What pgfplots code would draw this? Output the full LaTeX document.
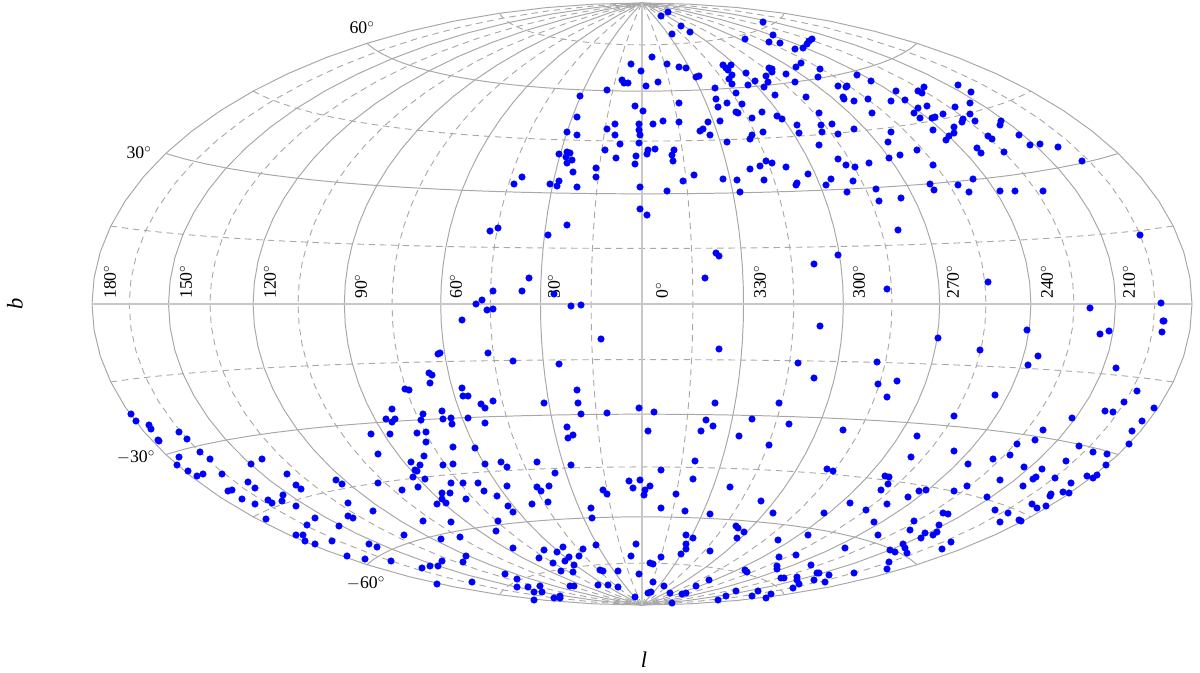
\documentclass[border=0pt]{standalone}
\usepackage{fontspec}
\setmainfont{Liberation Serif}
\usepackage{pgfplots}
\usepackage{pgfplotstable}
\pgfplotsset{compat=1.18}

\definecolor{gridgray}{gray}{0.66}
\definecolor{axisgray}{gray}{0.78}

% graticule nodes, in degrees
\pgfplotstableread{
b
-90
-85
-80
-75
-70
-65
-60
-55
-50
-45
-40
-35
-30
-25
-20
-15
-10
-5
0
5
10
15
20
25
30
35
40
45
50
55
60
65
70
75
80
85
90
}\latnodes
\pgfplotstableread{
l
-180
-170
-160
-150
-140
-130
-120
-110
-100
-90
-80
-70
-60
-50
-40
-30
-20
-10
0
10
20
30
40
50
60
70
80
90
100
110
120
130
140
150
160
170
180
}\lonnodes

% sources, read off in picture pixels
\pgfplotstableread{
x y
668 12
661 16
681 26
690 32
672 34
763 22
773 35
745 39
769 42
780 43
795 49
812 39
809 41
807 44
803 48
652 57
631 64
667 64
679 67
686 68
641 71
723 65
731 65
726 68
728 70
732 75
746 73
769 68
772 69
772 72
786 74
796 67
801 63
696 77
699 76
622 80
624 83
628 83
658 82
646 86
729 79
732 84
766 76
768 82
755 81
748 85
764 87
795 82
715 88
607 90
736 93
775 95
580 96
716 99
679 103
727 103
742 104
718 107
635 106
643 111
736 112
738 113
762 112
577 117
752 118
777 116
782 119
720 121
708 122
663 121
679 122
653 124
639 124
615 124
607 129
639 130
703 129
700 131
797 125
799 133
567 132
763 132
577 135
615 135
640 135
710 135
752 135
750 139
727 142
620 144
639 143
605 150
648 150
655 149
674 150
559 154
567 152
570 153
566 157
647 154
636 156
672 155
616 158
572 160
567 163
673 161
635 164
766 161
772 163
760 166
750 169
786 167
596 168
573 172
694 175
596 177
522 177
723 179
737 180
764 180
514 184
550 184
557 186
559 181
683 181
577 187
640 187
797 183
796 185
667 191
740 192
820 69
818 77
857 75
871 81
838 86
847 86
846 87
896 91
924 87
918 91
922 93
958 85
971 92
806 97
843 97
844 99
854 101
868 99
891 101
905 100
970 103
927 106
918 108
955 107
914 113
872 113
819 113
943 114
970 114
920 118
932 118
935 117
975 121
963 119
962 122
1001 121
1000 125
821 125
832 124
954 127
854 129
933 130
891 132
822 132
838 134
954 133
949 136
946 140
988 136
992 139
1019 135
1030 145
1040 144
1058 147
888 142
819 145
977 148
981 153
1004 152
917 150
900 155
889 158
838 159
846 165
855 167
869 163
933 165
1082 161
808 174
831 179
853 181
826 185
930 184
973 179
958 185
876 189
934 190
969 192
1000 191
1015 191
1043 191
847 192
901 198
879 201
898 230
838 255
640 209
647 215
567 225
490 231
498 228
548 235
716 253
719 256
814 264
705 278
529 278
522 291
493 291
482 300
476 304
487 310
493 309
554 294
571 306
581 305
462 320
820 326
601 339
719 349
798 363
814 378
715 403
779 403
639 408
654 412
607 413
706 420
752 419
1140 235
887 289
988 282
1161 303
1090 308
1163 321
1164 321
1162 332
1109 331
1100 334
1027 330
938 338
980 350
1038 356
1028 365
877 362
1116 368
878 384
897 381
1137 391
887 397
995 395
1124 402
131 414
136 421
149 425
151 429
158 440
159 441
179 432
187 439
200 452
210 459
179 457
177 465
188 471
197 476
203 474
222 474
251 464
262 459
287 474
248 482
255 488
228 491
232 490
242 499
255 504
268 500
272 503
283 495
282 501
296 485
301 489
296 506
266 519
336 480
342 484
348 503
348 516
353 518
315 518
307 525
339 526
296 535
303 535
305 541
315 544
332 541
347 556
365 559
369 544
377 547
391 561
438 354
440 353
488 353
513 361
559 364
429 373
432 375
430 383
405 389
409 390
462 388
463 396
468 396
481 404
485 408
493 401
544 403
577 390
578 403
581 414
392 409
423 414
442 411
386 419
395 419
392 422
421 420
443 419
451 418
468 418
452 424
485 423
371 434
390 434
417 433
426 432
426 442
567 427
573 435
568 438
453 447
475 448
378 454
424 456
411 462
420 465
443 465
453 464
485 464
501 462
507 467
537 462
571 465
555 473
415 470
417 471
413 477
425 479
378 483
402 490
418 487
451 483
463 483
478 483
507 486
537 487
541 491
549 486
484 491
442 493
450 493
497 496
466 499
442 499
446 503
437 504
508 506
532 504
548 502
513 512
591 508
592 518
373 511
423 521
451 522
498 521
496 531
404 535
441 539
460 537
596 545
636 544
513 548
544 550
563 547
557 552
583 549
579 556
569 557
565 561
539 558
553 563
574 565
466 556
463 562
442 561
438 566
430 566
422 568
631 556
661 557
650 563
653 564
600 570
603 571
618 571
561 571
573 572
505 574
639 574
517 579
653 582
472 582
437 584
517 587
528 587
540 586
598 585
608 585
618 587
570 586
574 586
534 592
542 592
648 593
651 592
560 596
554 598
560 598
534 600
635 597
661 508
685 511
710 514
761 501
773 513
824 513
850 503
866 510
887 504
874 522
878 535
736 526
738 528
744 532
686 535
693 538
737 538
808 535
778 540
686 544
686 549
681 554
710 551
845 548
796 555
779 557
811 565
777 566
777 569
745 570
747 572
854 573
829 575
819 573
817 573
797 577
797 580
781 578
784 578
814 580
825 582
709 580
799 584
793 588
664 586
696 586
736 591
758 591
670 593
686 593
682 594
771 594
752 596
726 596
766 598
718 600
672 603
954 416
1154 408
1105 411
1113 412
1072 418
1142 421
1132 431
1043 430
1035 440
1017 444
917 436
1129 444
1079 446
1093 452
1107 454
954 451
1010 455
993 459
911 457
968 464
1066 461
1106 465
1024 467
1042 469
1036 477
1033 479
1055 478
1087 476
1093 478
1097 475
885 476
889 477
888 484
1000 480
1071 483
1023 486
967 486
954 491
919 491
926 490
881 490
1051 494
1050 496
1063 492
1069 493
908 497
987 497
1032 504
1037 508
1046 506
995 510
1008 513
943 513
948 514
1019 520
1021 521
1000 522
914 521
939 525
910 530
937 532
925 533
933 535
921 538
903 544
905 548
951 542
942 549
907 553
890 550
895 552
889 562
887 569
713 426
701 431
648 431
789 424
843 430
739 436
769 445
695 461
661 470
693 479
827 469
833 471
629 481
640 480
633 488
650 486
645 490
644 495
603 490
607 494
676 494
730 487
}\sources

\begin{document}
\begin{tikzpicture}
\begin{axis}[
    scale only axis,
    width=30cm,
    height=16.8cm,
    xmin=0, xmax=1200,
    ymin=0, ymax=672,
    y dir=reverse,
    hide axis,
    clip=false,
    declare function={
      hx(\l,\b)=642+550*cos(\b)*sin(\l/2)/sqrt(1+cos(\b)*cos(\l/2));
      hy(\l,\b)=304-301*sin(\b)/sqrt(1+cos(\b)*cos(\l/2));
    },
  ]

  % keep the whole frame in the bounding box, hide axis drops it
  \path (axis cs:0,0) rectangle (axis cs:1200,672);

  % Hammer graticule: dashed every 15 deg, solid every 30 deg
  \pgfplotsinvokeforeach{-165,-135,-105,-75,-45,-15,15,45,75,105,135,165}{
    \addplot[gridgray, line width=0.65pt, dash pattern=on 4.6pt off 3.4pt, forget plot]
      table[x index=0, y index=0, x expr={hx(#1,\thisrow{b})}, y expr={hy(#1,\thisrow{b})}] {\latnodes};
  }
  \pgfplotsinvokeforeach{-75,-45,-15,15,45,75}{
    \addplot[gridgray, line width=0.65pt, dash pattern=on 4.6pt off 3.4pt, forget plot]
      table[x index=0, y index=0, x expr={hx(\thisrow{l},#1)}, y expr={hy(\thisrow{l},#1)}] {\lonnodes};
  }
  \pgfplotsinvokeforeach{-180,-150,-120,-90,-60,-30,30,60,90,120,150,180}{
    \addplot[gridgray, line width=0.7pt, forget plot]
      table[x index=0, y index=0, x expr={hx(#1,\thisrow{b})}, y expr={hy(#1,\thisrow{b})}] {\latnodes};
  }
  \pgfplotsinvokeforeach{-60,-30,30,60}{
    \addplot[gridgray, line width=0.7pt, forget plot]
      table[x index=0, y index=0, x expr={hx(\thisrow{l},#1)}, y expr={hy(\thisrow{l},#1)}] {\lonnodes};
  }
  % equator and central meridian
  \addplot[axisgray, line width=1.4pt, forget plot]
    table[x index=0, y index=0, x expr={hx(0,\thisrow{b})}, y expr={hy(0,\thisrow{b})}] {\latnodes};
  \addplot[axisgray, line width=1.4pt, forget plot]
    table[x index=0, y index=0, x expr={hx(\thisrow{l},0)}, y expr={hy(\thisrow{l},0)}] {\lonnodes};

  \addplot[only marks, mark=*, mark size=2.3pt, color=blue,
           mark options={draw=blue, fill=blue}]
    table[x=x, y=y] {\sources};

  % longitude labels
  \foreach \xp/\txt in {110/180,186/150,270/120,361/90,456/60,554/30,662/0,
                        760/330,859/300,953/270,1047/240,1129/210}{
    \edef\temp{\noexpand\node[rotate=90, anchor=west, font=\noexpand\fontsize{12.6}{14}\noexpand\selectfont, inner sep=0pt]
      at (axis cs:\xp,299) {\txt$^\noexpand\circ$};}
    \temp
  }
  % latitude labels
  \node[font=\fontsize{12.6}{14}\selectfont, inner sep=0pt] at (axis cs:362,28) {60$^\circ$};
  \node[font=\fontsize{12.6}{14}\selectfont, inner sep=0pt] at (axis cs:139,153) {30$^\circ$};
  \node[font=\fontsize{12.6}{14}\selectfont, inner sep=0pt] at (axis cs:136,457) {$-$30$^\circ$};
  \node[font=\fontsize{12.6}{14}\selectfont, inner sep=0pt] at (axis cs:366,583) {$-$60$^\circ$};

  \node[rotate=90, font=\fontsize{16}{18}\selectfont\itshape, inner sep=0pt] at (axis cs:15,304) {b};
  \node[font=\fontsize{16}{18}\selectfont\itshape, inner sep=0pt] at (axis cs:644,660) {l};
\end{axis}
\end{tikzpicture}
\end{document}
